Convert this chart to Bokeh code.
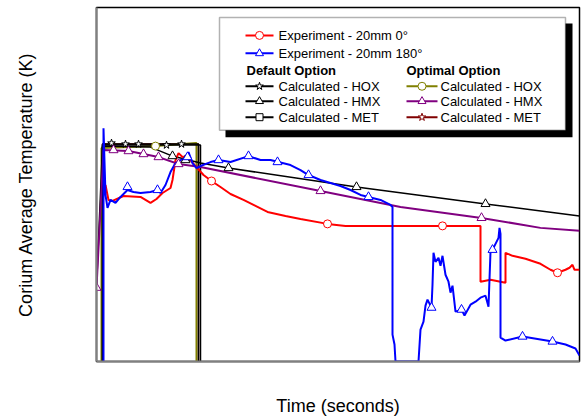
from bokeh.plotting import figure
from bokeh.models import Range1d, FixedTicker, BoxAnnotation
from bokeh.core.properties import value
from bokeh.embed import file_html
from bokeh.resources import INLINE

FONT = "Liberation Sans"

# ---- data (time in s, temperature in K) ----
red_t = [90, 120, 160, 270, 440, 540, 600, 660, 740, 760, 790, 820, 860, 890, 940, 990, 1070, 1150,
         1240, 1340, 1470, 1590, 1710, 1890, 2040, 2310, 2490, 2960, 3460, 3840, 3840, 3940, 4090,
         4090, 4160, 4290, 4440, 4540, 4610, 4690, 4730, 4760, 4780, 4830]
red_T = [1885, 1810, 1805, 1830, 1825, 1795, 1815, 1845, 1870, 1910, 2010, 2045, 2025, 2030, 2010, 1980,
         1935, 1905, 1875, 1840, 1810, 1780, 1750, 1730, 1715, 1690, 1680, 1680, 1680, 1680, 1400, 1410,
         1395, 1545, 1530, 1515, 1490, 1460, 1445, 1460, 1470, 1485, 1460, 1460]
red_mt = [1150, 2310, 3460, 4610]
red_mT = [1905, 1690, 1680, 1445]

blue_t = [70, 70, 90, 110, 140, 190, 240, 310, 370, 440, 540, 610, 640, 690, 740, 790, 840, 890, 920,
          960, 1000, 1040, 1140, 1220, 1340, 1520, 1640, 1740, 1820, 1940, 2040, 2120, 2240, 2340, 2440,
          2540, 2640, 2720, 2840, 2940, 2960, 2960, 2980, 2990, 3220, 3240, 3270, 3290, 3310, 3350, 3360,
          3370, 3390, 3420, 3440, 3460, 3490, 3520, 3540, 3560, 3590, 3650, 3680, 3740, 3790, 3840, 3890,
          3920, 3940, 3960, 3990, 4020, 4030, 4040, 4040, 4090, 4260, 4440, 4560, 4690, 4790, 4830]
blue_T = [1000, 2170, 1835, 1770, 1810, 1795, 1825, 1860, 1850, 1845, 1850, 1860, 1845, 1885, 1950, 1995,
          2010, 2020, 2050, 1995, 1970, 1980, 2000, 2010, 2000, 2030, 2010, 2010, 2000, 1985, 1960, 1935,
          1910, 1895, 1880, 1860, 1835, 1825, 1810, 1785, 1775, 1135, 1085, 1000, 1000, 1160, 1200, 1280,
          1310, 1270, 1385, 1545, 1500, 1520, 1480, 1530, 1435, 1400, 1345, 1380, 1250, 1260, 1230, 1285,
          1300, 1320, 1330, 1275, 1550, 1560, 1590, 1620, 1670, 1640, 1120, 1105, 1125, 1110, 1100, 1085,
          1065, 1030]
blue_mt = [310, 610, 910, 1220, 1520, 1810, 2120, 2720, 3350, 3650, 3960, 4260, 4560]
blue_mT = [1875, 1860, 2025, 2010, 2030, 2000, 1935, 1825, 1270, 1260, 1560, 1125, 1100]

hox_t = [60, 60, 1020, 1020]
hox_T = [1000, 2090, 2090, 1000]
hox_mt = [150, 290, 420, 700, 850]
hox_mT = [2095, 2090, 2090, 2085, 2090]

met_t = [60, 60, 1040, 1040]
met_T = [1000, 2085, 2085, 1000]

hmx_t = [0, 60, 540, 760, 1040, 1320, 2600, 3890, 4830]
hmx_T = [1370, 2080, 2075, 2030, 1995, 1970, 1875, 1790, 1730]
hmx_mt = [760, 890, 1320, 2600, 3890]
hmx_mT = [2030, 2010, 1970, 1875, 1790]

ohox_t = [50, 50, 590, 1000, 1000]
ohox_T = [1000, 2070, 2080, 2095, 1000]
ohox_mt = [590]
ohox_mT = [2080]

ohmx_t = [0, 70, 320, 470, 620, 820, 1040, 2240, 3040, 3850, 4440, 4830]
ohmx_T = [1370, 2060, 2055, 2040, 2025, 1990, 1975, 1855, 1775, 1720, 1670, 1655]
ohmx_mt = [0, 170, 320, 470, 620, 820, 2240, 3850]
ohmx_mT = [1370, 2060, 2055, 2040, 2025, 1990, 1855, 1720]

omet_t = [60, 60, 1020, 1020]
omet_T = [1000, 2090, 2090, 1000]

# legend content
leg_labels = ["Experiment - 20mm 0°", "Experiment - 20mm 180°",
              "Calculated - HOX", "Calculated - HMX", "Calculated - MET",
              "Calculated - HOX", "Calculated - HMX", "Calculated - MET"]
leg_colors = ["#ff0000", "#0000ff", "black", "black", "black", "#808000", "#800080", "#800000"]
leg_markers = ["circle", "triangle", "star", "triangle", "square", "circle", "triangle", "star"]
leg_headers = ["Default Option", "Optimal Option"]

p = figure(width=583, height=418, output_backend="svg", toolbar_location=None,
           x_range=Range1d(0, 4830), y_range=Range1d(1000, 2775),
           min_border_left=96, min_border_right=4, min_border_top=7, min_border_bottom=56)
p.background_fill_color = "white"
p.border_fill_color = "white"
p.outline_line_color = "black"
p.outline_line_width = 1.5
p.grid.visible = False

for ax in (p.xaxis[0], p.yaxis[0]):
    ax.ticker = FixedTicker(ticks=[])
    ax.major_tick_line_color = None
    ax.minor_tick_line_color = None
    ax.major_label_standoff = 0
    ax.axis_line_color = "#808080"
    ax.axis_line_width = 2
    ax.axis_label_text_font = FONT
    ax.axis_label_text_font_size = "18px"
    ax.axis_label_text_font_style = "normal"
    ax.axis_label_text_color = "black"
p.xaxis.axis_label = "Time (seconds)"
p.yaxis.axis_label = "Corium Average Temperature (K)"
p.xaxis.axis_label_standoff = 34
p.yaxis.axis_label_standoff = 61

# legend box with shadow (drawn beneath the curves)
p.add_layout(BoxAnnotation(left=1290, right=4760, top=2695, bottom=2125, fill_color="black",
                           fill_alpha=1, line_color=None, level="underlay"))
p.add_layout(BoxAnnotation(left=1230, right=4690, top=2725, bottom=2160, fill_color="white",
                           fill_alpha=1, line_color="black", line_width=1.5, level="underlay"))

# calculated curves
p.line(omet_t, omet_T, color="#800000", line_width=1.5)
p.line(ohox_t, ohox_T, color="#808000", line_width=2)
p.line(met_t, met_T, color="black", line_width=1.5)
p.line(hox_t, hox_T, color="black", line_width=1.5)
p.line(hmx_t, hmx_T, color="black", line_width=1.5)
p.line(ohmx_t, ohmx_T, color="#800080", line_width=2)
# experiments
p.line(red_t, red_T, color="#ff0000", line_width=2)
p.line(blue_t, blue_T, color="#0000ff", line_width=2)

# markers
p.scatter(hox_mt, hox_mT, marker="star", size=8, line_color="black", fill_color="white")
p.scatter(hmx_mt, hmx_mT, marker="triangle", size=9, line_color="black", fill_color="white")
p.scatter(ohox_mt, ohox_mT, marker="circle", size=8, line_color="#808000", fill_color="white")
p.scatter(ohmx_mt, ohmx_mT, marker="triangle", size=9, line_color="#800080", fill_color="white")
p.scatter(red_mt, red_mT, marker="circle", size=8, line_color="#ff0000", fill_color="white")
p.scatter(blue_mt, blue_mT, marker="triangle", size=9, line_color="#0000ff", fill_color="white")

row_T = [2635, 2545, 2380, 2305, 2225, 2380, 2305, 2225]
col_x0 = [1490, 1490, 1490, 1490, 1490, 3100, 3100, 3100]
col_x1 = [1770, 1770, 1770, 1770, 1770, 3410, 3410, 3410]
col_tx = [1820, 1820, 1820, 1820, 1820, 3440, 3440, 3440]
for i in range(len(leg_labels)):
    p.segment(col_x0[i], row_T[i], col_x1[i], row_T[i], line_color=leg_colors[i], line_width=2)
    p.scatter([(col_x0[i] + col_x1[i]) / 2], [row_T[i]], marker=leg_markers[i],
              size=8 if leg_markers[i] != "square" else 7,
              line_color=leg_colors[i], fill_color="white")
p.text(x=col_tx, y=row_T, text=leg_labels, text_font=value(FONT), text_font_size="13px",
       text_baseline="middle", text_align="left", text_color="black")
p.text(x=[1500, 3100], y=[2460, 2460], text=leg_headers, text_font=value(FONT),
       text_font_size="13px", text_font_style="bold", text_baseline="middle", text_align="left",
       text_color="black")

open("out.html", "w").write(file_html(p, INLINE))
